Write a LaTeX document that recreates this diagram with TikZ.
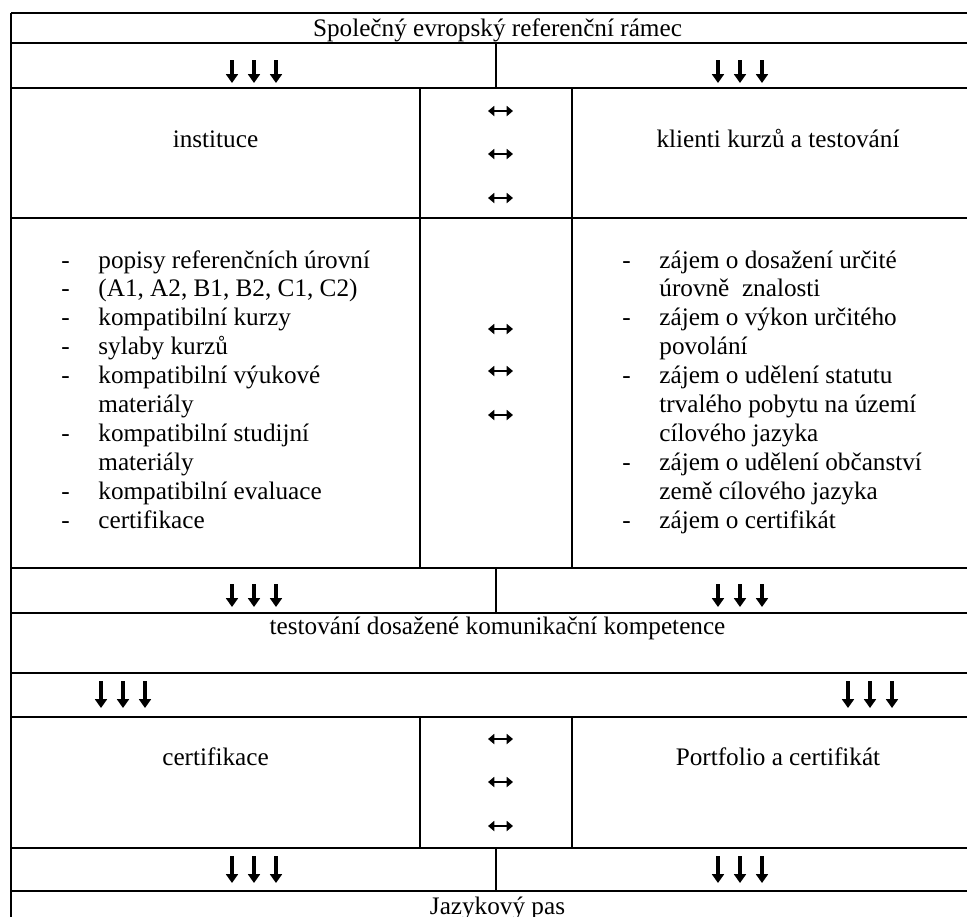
\documentclass[tikz,border=0pt]{standalone}
\usepackage{fontspec}
\setmainfont{Liberation Serif}
\usetikzlibrary{arrows.meta}

\tikzset{
  cellline/.style={line width=0.55pt},
  celltext/.style={anchor=base, inner sep=0pt, font=\fontsize{12}{13.8}\selectfont},
  listtext/.style={anchor=base west, inner sep=0pt, font=\fontsize{12}{13.8}\selectfont},
  downarrow/.style={-{Triangle[length=4.2pt,width=5.6pt]}, line width=1.6pt},
  bothways/.style={{Triangle[length=3pt,width=4.8pt]}-{Triangle[length=3pt,width=4.8pt]}, line width=1.25pt}
}
% three arrows pointing down, centred at x = #1, from #2 to #3
\newcommand{\arrowtrio}[3]{\foreach \dx in {-22,0,22} \draw[downarrow] ({#1+\dx},#2) -- ({#1+\dx},#3);}
% double arrows in the middle column
\newcommand{\swaptrio}[1]{\foreach \yy in {#1} \draw[bothways] (488,\yy) -- (513,\yy);}

\begin{document}
\begin{tikzpicture}[x=0.476pt, y=-0.476pt]
                        \useasboundingbox (0,0) rectangle (967,916);
                        \clip (0,0) rectangle (967,916);
                        % grid of the table
                        \foreach \yy in {13,43,88,218,568,613,673,717,848,891}
                                \draw[cellline] (11,\yy) -- (984,\yy);
                        \draw[cellline] (11,13) -- (11,930);
                        \draw[cellline] (984,13) -- (984,930);
                        \foreach \ya/\yb in {43/88, 568/613, 848/891}
                                \draw[cellline] (496,\ya) -- (496,\yb);
                        \foreach \ya/\yb in {88/568, 717/848} {
                                \draw[cellline] (420,\ya) -- (420,\yb);
                                \draw[cellline] (572,\ya) -- (572,\yb);
                        }
                        % headings
                        \node[celltext] (frame) at (497.5,36) {Společný evropský referenční rámec};
                        \node[celltext] (inst) at (215.5,147) {instituce};
                        \node[celltext] (clients) at (778,147) {klienti kurzů a testování};
                        \node[celltext] (testing) at (497.5,634) {testování dosažené komunikační kompetence};
                        \node[celltext] (cert) at (215.5,765) {certifikace};
                        \node[celltext] (portfolio) at (778,765) {Portfolio a certifikát};
                        \node[celltext] (passport) at (497.5,914) {Jazykový pas};
                        % lists
                        \foreach \t [count=\k from 0] in {popisy referenčních úrovní, {(A1, A2, B1, B2, C1, C2)},
                                kompatibilní kurzy, sylaby kurzů, kompatibilní výukové, materiály,
                                kompatibilní studijní, materiály, kompatibilní evaluace, certifikace}
                                \node[listtext] (left\k) at (98,{268+28.9*\k}) {\t};
                        \foreach \k in {0,1,2,3,4,6,8,9}
                                \node[listtext] (ldash\k) at (61,{268+28.9*\k}) {-};
                        \foreach \t [count=\k from 0] in {zájem o dosažení určité, úrovně\ \ znalosti,
                                zájem o výkon určitého, povolání, zájem o udělení statutu,
                                trvalého pobytu na území, cílového jazyka, zájem o udělení občanství,
                                země cílového jazyka, zájem o certifikát}
                                \node[listtext] (right\k) at (659,{268+28.9*\k}) {\t};
                        \foreach \k in {0,2,4,7,9}
                                \node[listtext] (rdash\k) at (622,{268+28.9*\k}) {-};
                        % arrows
                        \arrowtrio{254}{60}{83}
                        \arrowtrio{740}{60}{83}
                        \arrowtrio{254}{584}{607}
                        \arrowtrio{740}{584}{607}
                        \arrowtrio{123}{681}{708}
                        \arrowtrio{870}{681}{708}
                        \arrowtrio{254}{856}{883}
                        \arrowtrio{740}{856}{883}
                        \swaptrio{111,154,198}
                        \swaptrio{329,371,415}
                        \swaptrio{739,782,826}
                \end{tikzpicture}
\end{document}
